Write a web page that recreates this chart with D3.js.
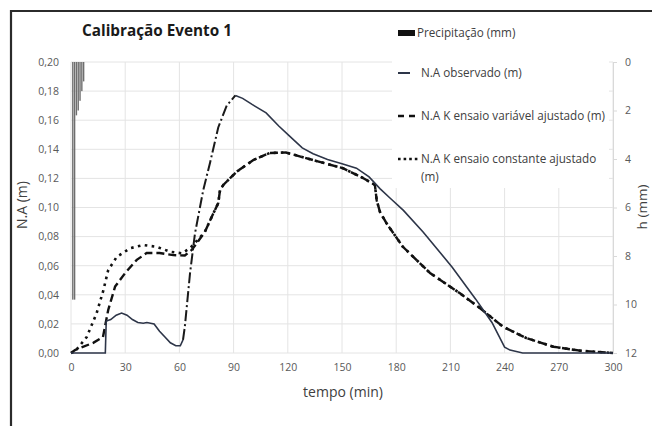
<!DOCTYPE html>
<html lang="pt">
<head>
<meta charset="UTF-8">
<title>Calibração Evento 1</title>
<style>
  body { margin: 0; background: #fff; }
  svg { display: block; font-family: "Open Sans", Lato, sans-serif; }
  .tick text { fill: #595959; font-size: 10.5px; font-family: "Open Sans", sans-serif; }
</style>
</head>
<body>
<svg id="chart" width="652" height="426"></svg>
<script src="https://cdn.jsdelivr.net/npm/d3@7"></script>
<script>
// precipitação (mm), por minuto
const rainTime = [1, 2, 3, 4, 5, 6, 7];
const rainMm = [9.8, 9.8, 2.2, 2.0, 1.6, 1.2, 0.8];

// N.A observado (m)
const obsTime = [0, 19, 19.5, 22, 25, 28, 31, 34, 37, 40, 42, 44, 46, 49, 52, 55, 58, 60.5, 62,
  63, 65.9, 68.6, 73.2, 77, 81.5, 86.2, 91, 95, 100, 108, 115, 121, 128, 134, 142, 150, 158,
  165, 171, 177, 184, 195, 211, 224, 233, 240, 243, 250, 300];
const obsNA = [0, 0, 0.022, 0.023, 0.026, 0.0275, 0.026, 0.023, 0.021, 0.0205, 0.021, 0.0205,
  0.02, 0.015, 0.011, 0.007, 0.005, 0.005, 0.009,
  0.018, 0.055, 0.082, 0.112, 0.131, 0.155, 0.17, 0.177, 0.175, 0.171, 0.165, 0.156, 0.149,
  0.141, 0.137, 0.133, 0.13, 0.127, 0.121, 0.113, 0.106, 0.098, 0.083, 0.059, 0.037, 0.021,
  0.004, 0.002, 0, 0];

// N.A K ensaio variável ajustado (m)
const varTime = [0, 2.2, 12.3, 17.7, 20.6, 24.4, 30, 36.4, 41.9, 49, 56.6, 63, 66.8, 74, 78.8,
  81.5, 82.5, 84.3, 91.7, 100.9, 110, 119, 134, 150.5, 161.6, 168.2, 169.2, 171, 174.7, 183.7,
  198.7, 215.3, 226.3, 239.2, 252, 267, 281.7, 298, 300];
const varNA = [0, 0.002, 0.007, 0.011, 0.0296, 0.0456, 0.055, 0.064, 0.0687, 0.0687, 0.0673,
  0.067, 0.0708, 0.083, 0.096, 0.103, 0.112, 0.1155, 0.1246, 0.1326, 0.1375, 0.1378, 0.1326,
  0.127, 0.1203, 0.1155, 0.105, 0.097, 0.089, 0.073, 0.055, 0.041, 0.0309, 0.018, 0.0103,
  0.0043, 0.0016, 0.0002, 0];

// N.A K ensaio constante ajustado (m)
const conTime = [0, 2.2, 8.7, 14.2, 17.9, 20.6, 25.3, 32.7, 40, 47.4, 54.8, 61.3, 65.9, 74,
  78.8, 81.5, 82.5, 84.3, 91.7, 100.9, 110, 119, 134, 150.5, 161.6, 168.2, 169.2, 171, 174.7,
  183.7, 198.7, 215.3, 226.3, 239.2, 252, 267, 281.7, 298, 300];
const conNA = [0, 0.001, 0.011, 0.0274, 0.043, 0.057, 0.066, 0.072, 0.0742, 0.073, 0.0696,
  0.0685, 0.072, 0.083, 0.096, 0.103, 0.112, 0.1155, 0.1246, 0.1326, 0.1375, 0.1378, 0.1326,
  0.127, 0.1203, 0.1155, 0.105, 0.097, 0.089, 0.073, 0.055, 0.041, 0.0309, 0.018, 0.0103,
  0.0043, 0.0016, 0.0002, 0];

const xTicks = [0, 30, 60, 90, 120, 150, 180, 210, 240, 270, 300];
const yTicks = [0, 0.02, 0.04, 0.06, 0.08, 0.10, 0.12, 0.14, 0.16, 0.18, 0.20];
const hTicks = [0, 2, 4, 6, 8, 10, 12];

const svg = d3.select("#chart");
const x = d3.scaleLinear().domain([0, 300]).range([71, 613]);
const y = d3.scaleLinear().domain([0, 0.2]).range([353, 62]);
const yh = d3.scaleLinear().domain([0, 12]).range([62, 353]);
const fmt = d3.formatLocale({ decimal: ",", thousands: ".", grouping: [3], currency: ["", ""] }).format(".2f");

// moldura
svg.append("path")
  .attr("d", "M11,426V11H652")
  .attr("fill", "none").attr("stroke", "#2b2b2b").attr("stroke-width", 2.2);

// grade
svg.append("g").selectAll("line").data(yTicks).join("line")
  .attr("x1", 71).attr("x2", 613)
  .attr("y1", d => y(d)).attr("y2", d => y(d))
  .attr("stroke", "#e4e4e4").attr("stroke-width", 1);
svg.append("g").selectAll("line").data(xTicks).join("line")
  .attr("x1", d => x(d)).attr("x2", d => x(d))
  .attr("y1", 62).attr("y2", 353)
  .attr("stroke", "#e4e4e4").attr("stroke-width", 1);

// eixos
const gx = svg.append("g").attr("transform", "translate(0,360)")
  .call(d3.axisBottom(x).tickValues(xTicks).tickSize(0).tickPadding(4));
gx.select(".domain").remove();

const gy = svg.append("g").attr("transform", "translate(63,0)")
  .call(d3.axisLeft(y).tickValues(yTicks).tickFormat(fmt).tickSize(0).tickPadding(4));
gy.select(".domain").remove();

const gh = svg.append("g").attr("transform", "translate(613,0)")
  .call(d3.axisRight(yh).tickValues(hTicks).tickSize(4).tickPadding(8));
gh.select(".domain").attr("stroke", "#d9d9d9");
gh.selectAll(".tick line").attr("stroke", "#d9d9d9");

// precipitação
svg.append("g").selectAll("rect").data(rainTime).join("rect")
  .attr("x", d => x(d) - 0.7)
  .attr("y", yh(0))
  .attr("width", 1.4)
  .attr("height", (d, i) => yh(rainMm[i]) - yh(0))
  .attr("fill", "#6e6e6e");

function pts(ts, vs) { return ts.map((t, i) => [t, vs[i]]); }
const line = d3.line().x(d => x(d[0])).y(d => y(d[1]));

const conData = pts(conTime, conNA);
const varData = pts(varTime, varNA);
const obsData = pts(obsTime, obsNA);

svg.append("path").datum(conData).attr("d", line)
  .attr("fill", "none").attr("stroke", "#111").attr("stroke-width", 2.6)
  .attr("stroke-dasharray", "2.6,4.4");

svg.append("path").datum(varData).attr("d", line)
  .attr("fill", "none").attr("stroke", "#111").attr("stroke-width", 2.4)
  .attr("stroke-dasharray", "8,4");

// observado: trecho de subida aparece tracejado no original
const riseStart = 62, riseEnd = 91;
svg.append("path").datum(obsData.filter(d => d[0] <= riseStart)).attr("d", line)
  .attr("fill", "none").attr("stroke", "#2d3548").attr("stroke-width", 1.6);
svg.append("path").datum(obsData.filter(d => d[0] >= riseEnd)).attr("d", line)
  .attr("fill", "none").attr("stroke", "#2d3548").attr("stroke-width", 1.6);
svg.append("path").datum(obsData.filter(d => d[0] >= riseStart && d[0] <= riseEnd)).attr("d", line)
  .attr("fill", "none").attr("stroke", "#1a1a1a").attr("stroke-width", 2)
  .attr("stroke-dasharray", "11,3,2,3");

// legenda
const lg = svg.append("g");
lg.append("rect").attr("x", 392).attr("y", 20).attr("width", 217).attr("height", 168).attr("fill", "#fff");
lg.append("rect").attr("x", 398).attr("y", 30).attr("width", 17).attr("height", 6).attr("fill", "#111");
lg.append("line").attr("x1", 398).attr("x2", 410).attr("y1", 73).attr("y2", 73)
  .attr("stroke", "#2d3548").attr("stroke-width", 2);
lg.append("line").attr("x1", 398).attr("x2", 420).attr("y1", 116).attr("y2", 116)
  .attr("stroke", "#111").attr("stroke-width", 2.4).attr("stroke-dasharray", "6,5");
lg.append("line").attr("x1", 398).attr("x2", 420).attr("y1", 159).attr("y2", 159)
  .attr("stroke", "#111").attr("stroke-width", 2.6).attr("stroke-dasharray", "2.6,3");

const legText = [
  ["Precipitação (mm)", 417, 33],
  ["N.A observado (m)", 421, 73],
  ["N.A K ensaio variável ajustado (m)", 421, 116],
  ["N.A K ensaio constante ajustado", 421, 159],
  ["(m)", 421, 177]
];
lg.selectAll("text.lt").data(legText).join("text")
  .attr("class", "lt")
  .attr("x", d => d[1]).attr("y", d => d[2]).attr("dy", "0.35em")
  .attr("font-size", 11.7).attr("fill", "#404040")
  .text(d => d[0]);

// títulos
svg.append("text").attr("x", 82).attr("y", 36)
  .attr("font-size", 15.3).attr("font-weight", "bold").attr("fill", "#1a1a1a")
  .text("Calibração Evento 1");
svg.append("text").attr("x", 343).attr("y", 397).attr("text-anchor", "middle")
  .attr("font-size", 14).attr("fill", "#404040").text("tempo (min)");
svg.append("text").attr("transform", "translate(27,205) rotate(-90)").attr("text-anchor", "middle")
  .attr("font-size", 14).attr("fill", "#404040").text("N.A (m)");
svg.append("text").attr("transform", "translate(647,207) rotate(-90)").attr("text-anchor", "middle")
  .attr("font-size", 13.5).attr("fill", "#404040").text("h (mm)");
</script>
</body>
</html>
